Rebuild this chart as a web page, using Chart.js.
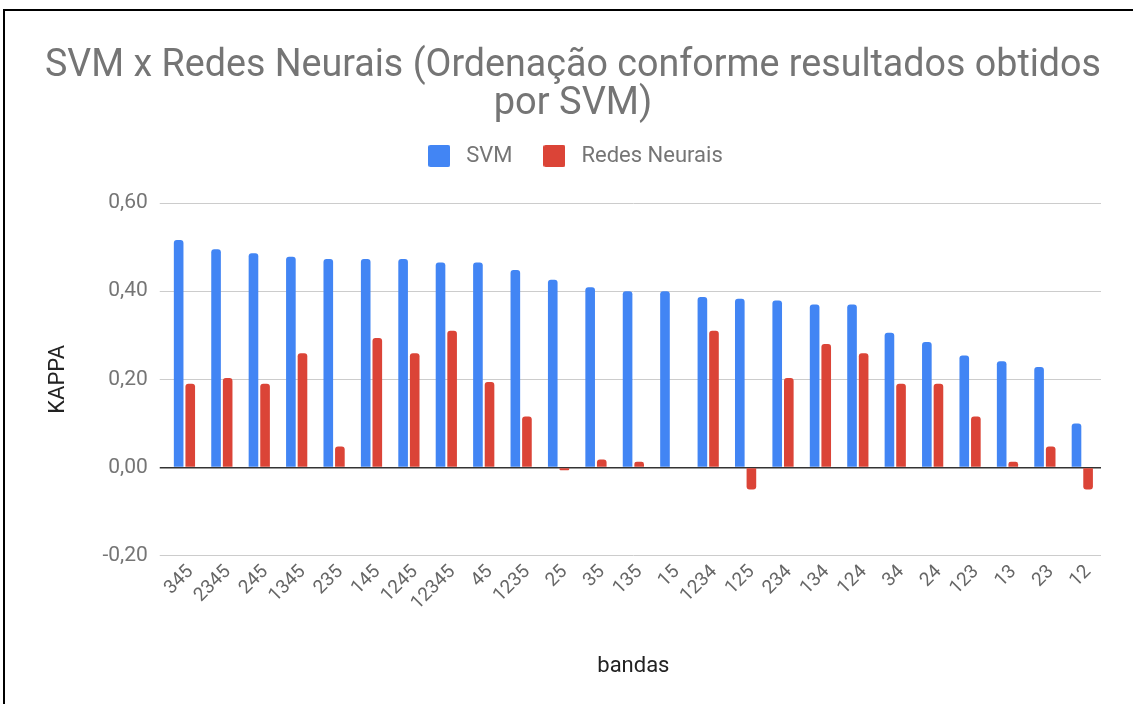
<!DOCTYPE html>
<html>
<head>
<meta charset="utf-8">
<title>SVM x Redes Neurais</title>
<script src="https://cdn.jsdelivr.net/npm/chart.js@4.4.1/dist/chart.umd.min.js"></script>
<style>
  html, body { margin: 0; padding: 0; background: #fff; overflow: hidden; }
  #wrap { position: relative; width: 1133px; height: 704px; }
  #frame {
    position: absolute; left: 3px; top: 9px; width: 1140px; height: 800px;
    border-left: 2px solid #000; border-top: 2px solid #000;
    pointer-events: none;
  }
</style>
</head>
<body>
<div id="wrap">
  <canvas id="chart" width="1133" height="704"></canvas>
  <div id="frame"></div>
</div>
<script>
// dados
const bandas = ["345", "2345", "245", "1345", "235", "145", "1245", "12345", "45", "1235",
  "25", "35", "135", "15", "1234", "125", "234", "134", "124", "34", "24", "123", "13", "23", "12"];
const svm = [0.516, 0.495, 0.486, 0.478, 0.473, 0.473, 0.473, 0.465, 0.465, 0.448,
  0.426, 0.409, 0.400, 0.400, 0.387, 0.383, 0.379, 0.370, 0.370, 0.306, 0.285, 0.254, 0.241, 0.228, 0.100];
const redesNeurais = [0.190, 0.203, 0.190, 0.259, 0.048, 0.294, 0.259, 0.310, 0.194, 0.116,
  -0.006, 0.018, 0.013, 0, 0.310, -0.050, 0.203, 0.280, 0.259, 0.190, 0.190, 0.116, 0.013, 0.048, -0.050];
const yTicks = [-0.2, 0, 0.2, 0.4, 0.6];

const cores = ["#4285f4", "#db4437"];

const fmt = v => Number(v).toFixed(2).replace(".", ",");

// quadradinho da legenda (desenhado num canvas pequeno)
function legendBox(cor) {
  const c = document.createElement("canvas");
  c.width = 22;
  c.height = 22;
  const g = c.getContext("2d");
  g.fillStyle = cor;
  g.beginPath();
  g.roundRect(0, 0, 22, 22, 2);
  g.fill();
  return c;
}
const boxes = cores.map(legendBox);

// espaço extra abaixo da legenda
const legendGap = {
  id: "legendGap",
  beforeInit(chart) {
    const origFit = chart.legend.fit;
    chart.legend.fit = function () {
      origFit.bind(chart.legend)();
      this.height += 26;
    };
  }
};

const ctx = document.getElementById("chart").getContext("2d");
new Chart(ctx, {
  type: "bar",
  data: {
    labels: bandas,
    datasets: [
      {
        label: "SVM",
        data: svm,
        backgroundColor: cores[0],
        borderRadius: 3,
        borderSkipped: "start",
        categoryPercentage: 0.62,
        barPercentage: 0.83
      },
      {
        label: "Redes Neurais",
        data: redesNeurais,
        backgroundColor: cores[1],
        borderRadius: 3,
        borderSkipped: "start",
        categoryPercentage: 0.62,
        barPercentage: 0.83
      }
    ]
  },
  options: {
    responsive: false,
    animation: false,
    devicePixelRatio: 1,
    layout: { padding: { top: 34, left: 45, right: 32, bottom: 12 } },
    plugins: {
      title: {
        display: true,
        text: ["SVM x Redes Neurais (Ordenação conforme resultados obtidos", "por SVM)"],
        color: "#757575",
        font: { family: "Roboto", size: 38, weight: "normal", lineHeight: 1.0 },
        padding: { top: 13, bottom: -4 }
      },
      legend: {
        display: true,
        position: "top",
        labels: {
          color: "#757575",
          font: { family: "Roboto", size: 22 },
          usePointStyle: true,
          pointStyleWidth: 32,
          boxHeight: 22,
          padding: 26,
          generateLabels(chart) {
            const items = Chart.defaults.plugins.legend.labels.generateLabels(chart);
            items.forEach((it, i) => { it.pointStyle = boxes[i]; });
            return items;
          }
        }
      },
      tooltip: { enabled: false }
    },
    scales: {
      x: {
        grid: { display: false },
        border: { display: false },
        ticks: {
          color: "#666",
          font: { family: "Roboto", size: 19 },
          minRotation: 45,
          maxRotation: 45,
          autoSkip: false,
          padding: -3,
          labelOffset: 6
        },
        title: {
          display: true,
          text: "bandas",
          color: "#222",
          font: { family: "Roboto", size: 22 },
          padding: { top: 42, bottom: 12 }
        }
      },
      y: {
        min: -0.2,
        max: 0.6,
        afterBuildTicks(scale) {
          scale.ticks = yTicks.map(v => ({ value: v }));
        },
        border: { display: false },
        grid: {
          color: c => (c.tick && Math.abs(c.tick.value) < 1e-9 ? "#333" : "#ccc"),
          lineWidth: c => (c.tick && Math.abs(c.tick.value) < 1e-9 ? 1.5 : 1),
          tickLength: 6,
          drawTicks: true
        },
        ticks: {
          color: "#757575",
          font: { family: "Roboto", size: 21 },
          padding: 12,
          callback: v => fmt(v)
        },
        title: {
          display: true,
          text: "KAPPA",
          color: "#222",
          font: { family: "Roboto", size: 22 },
          padding: { top: 0, bottom: 19 }
        }
      }
    }
  },
  plugins: [legendGap]
});
</script>
</body>
</html>
